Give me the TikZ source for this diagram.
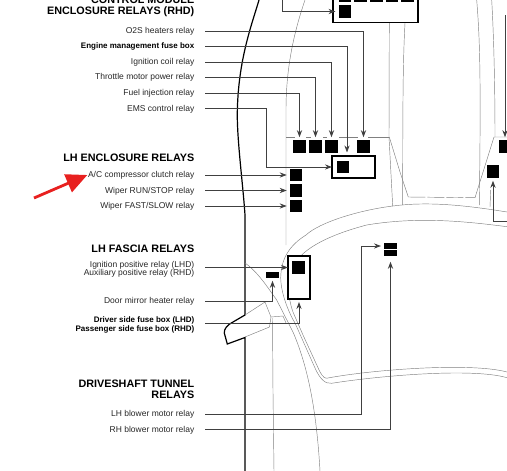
\documentclass[tikz,border=0pt]{standalone}
\usepackage{fontspec}
\setmainfont{Liberation Sans}
\usetikzlibrary{arrows.meta,calc}
\definecolor{arrowred}{HTML}{E8201F}
\tikzset{
  leader/.style={-{Stealth[length=7pt,width=5.2pt]},black!75,line width=0.8pt},
  outline/.style={black!50,line width=0.45pt},
  bodyline/.style={black,line width=1.2pt},
  relay/.style={fill=black,inner sep=0pt,minimum size=12.6pt,outer sep=3pt},
  smallrelay/.style={fill=black,inner sep=0pt,minimum width=13pt,minimum height=5.6pt,outer sep=3pt},
  relaybox/.style={draw=black,line width=1.1pt,inner sep=0pt,outer sep=0pt},
  itemlabel/.style={anchor=east,align=right,inner sep=0pt,text depth=0.6pt,font=\fontsize{8.5}{8.7}\selectfont,text=black!85},
  fuselabel/.style={itemlabel,font=\fontsize{8}{9.3}\selectfont\bfseries,text=black},
  heading/.style={anchor=east,align=right,inner sep=0pt,font=\fontsize{10.8}{11.3}\selectfont\bfseries}
}
\begin{document}
\begin{tikzpicture}[x=1pt,y=-1pt]
\useasboundingbox (0,0) rectangle (507,471);
\draw[bodyline] (259,0) .. controls (252,24) and (238,60) .. (237.3,113) .. controls (237,140) and (243,185) .. (245,215) -- (245,315) -- (233,322) .. controls (227,325) and (224,329) .. (224.3,333) -- (227.3,344) -- (245,337.5) -- (245,471);
\draw[outline] (305,0) .. controls (293,35) and (286,70) .. (286,110) -- (286,245);
\draw[outline] (286,137) -- (295,137) (306,137) -- (311,137) (323,137) -- (327,137) (339,137) -- (358,137) (368,137) -- (389,137);
\draw[outline] (389.3,23) -- (389,137) -- (392.7,206);
\draw[outline] (405,23) .. controls (403,60) and (402.7,100) .. (402.7,205);
\draw[outline] (389.3,137) -- (400,172) -- (408.3,197);
\draw[outline,dashed,dash pattern=on 17pt off 2pt] (408.3,197) -- (475,197.7);
\draw[outline] (475,197.7) -- (494,137) -- (507,137);
\draw[outline] (476.7,0) .. controls (480,40) and (481,80) .. (479.3,205);
\draw[outline] (491.7,0) .. controls (494,40) and (495,90) .. (495,137);
\draw[outline] (490.7,190) -- (490,207);
\draw[outline] (507,212) .. controls (470,206) and (430,201) .. (393,206) .. controls (360,210) and (320,222) .. (306,235) .. controls (290,245) and (281,258) .. (280.7,278) .. controls (281,295) and (290,315) .. (295,323) -- (315,368) .. controls (320,379) and (325,384) .. (331.7,383.3) .. controls (370,377) and (470,367) .. (507,377.7);
\draw[outline] (507,226.7) .. controls (470,222) and (420,216) .. (366.7,225) .. controls (340,232) and (315,242) .. (301.7,255);
\draw[outline] (287.7,278) .. controls (288,292) and (290,304) .. (293,312) -- (303,335) -- (320,372) .. controls (323,377) and (325,379) .. (328,378) .. controls (370,370) and (470,362) .. (507,372);
\draw[outline] (245,263) .. controls (258,272) and (268,288) .. (276.7,300) -- (293,332) .. controls (305,360) and (316,400) .. (320,471);
\draw[outline] (245,315) -- (265,302) -- (271,317);
\draw[outline] (271,317) -- (283,316) -- (286,323);
\draw[outline] (271,317) -- (269.5,327) -- (245,337);
\draw[outline] (272.5,318) -- (273,392) -- (274,471);
\node[heading] (controlhead) at (194.5,6.5) {CONTROL MODULE\\ENCLOSURE RELAYS (RHD)};
\node[heading] (enclosurehead) at (194.5,157.7) {LH ENCLOSURE RELAYS};
\node[heading] (fasciahead) at (194.5,248.7) {LH FASCIA RELAYS};
\node[heading] (tunnelhead) at (194.5,389.5) {DRIVESHAFT TUNNEL\\RELAYS};
\foreach \name/\ypos/\txt in {otwos/31/{O2S heaters relay},ignition/62/{Ignition coil relay},throttle/77/{Throttle motor power relay},injection/93/{Fuel injection relay},ems/108.5/{EMS control relay},compressor/175/{A/C compressor clutch relay},wiperrun/190.5/{Wiper RUN/STOP relay},wiperfast/206/{Wiper FAST/SLOW relay},positive/268.6/{Ignition positive relay (LHD)\\Auxiliary positive relay (RHD)},mirror/301/{Door mirror heater relay},lhblower/414/{LH blower motor relay},rhblower/429.7/{RH blower motor relay}}{
  \node[itemlabel] (\name) at (194.5,\ypos) {\txt};
}
\node[fuselabel] (engine) at (194.5,46.3) {Engine management fuse box};
\node[fuselabel] (driver) at (194.5,324.7) {Driver side fuse box (LHD)\\Passenger side fuse box (RHD)};
\foreach \name/\xpos/\ypos in {topa/344.8/-4.5,topb/360.5/-4.5,topc/376.5/-4.5,topd/392/-4.5,tope/407.5/-4.5,topf/344.8/11.5,ra/299.5/146.5,rb/315.5/146.5,rc/331.5/146.5,rd/363.5/146.5,re/296/175,rf/296/190.5,rg/296/206,rh/505/146.5,ri/493/171.5}{
  \node[relay] (\name) at (\xpos,\ypos) {};
}
\node[smallrelay] (mirrorrelay) at (272.5,275) {};
\node[smallrelay] (blowera) at (390.5,246) {};
\node[smallrelay] (blowerb) at (390.5,253) {};
\node[relaybox,minimum width=43pt,minimum height=22pt] (efibox) at (353.5,167) {};
\node[relay] (efirelay) at (343,167) {};
\node[relaybox,minimum width=22pt,minimum height=43pt,fill=white] (fasciabox) at (299,277.5) {};
\node[relay] (fasciarelay) at (298.7,267.5) {};
\draw[relaybox] (333,-2) -- (333,22.5) -- (418,22.5) -- (418,-2);
\coordinate (enginetip) at (347,152.5);
\coordinate (emsbend) at (266,167);
\coordinate (driverstart) at (205,323);
\coordinate (tunnelbend) at (361,246);
\coordinate (topstart) at (282,0);
\coordinate (topend) at (505,15);
\coordinate (rightstart) at (507,221);
\coordinate (positivestart) at (205,267.5);
\foreach \from/\to in {otwos/rd,ignition/rc,throttle/rb,injection/ra}{
  \draw[leader] ($(\from.east)+(10.5,0)$) -| (\to.north);
}
\foreach \from/\to in {compressor/re,wiperrun/rf,wiperfast/rg}{
  \draw[leader] ($(\from.east)+(10.5,0)$) -- (\to.west);
}
\draw[leader] ($(engine.east)+(10.5,-0.3)$) -| (enginetip);
\draw[leader] ($(ems.east)+(10.5,0)$) -| (emsbend) -- (efibox.west);
\draw[leader] (topstart) |- (topf.west);
\draw[leader] (topend) -- (rh.north);
\draw[leader] (rightstart) -| (ri.south);
\draw[leader] (positivestart) -- (positivestart -| fasciabox.west);
\draw[leader] ($(mirror.east)+(10.5,0)$) -| (mirrorrelay.south);
\draw[leader,shorten >=3pt] (driverstart) -| (fasciabox.south);
\draw[leader] ($(lhblower.east)+(10.5,0)$) -| (tunnelbend) -- (blowera.west);
\draw[leader,shorten >=3pt] ($(rhblower.east)+(10.5,0)$) -| (blowerb.south);
\coordinate (arrowtail) at (34,198);
\coordinate (arrowtip) at (87.3,175);
\draw[-{Triangle[length=21pt,width=19pt]},arrowred,line width=2.8pt] (arrowtail) -- (arrowtip);
\end{tikzpicture}
\end{document}
